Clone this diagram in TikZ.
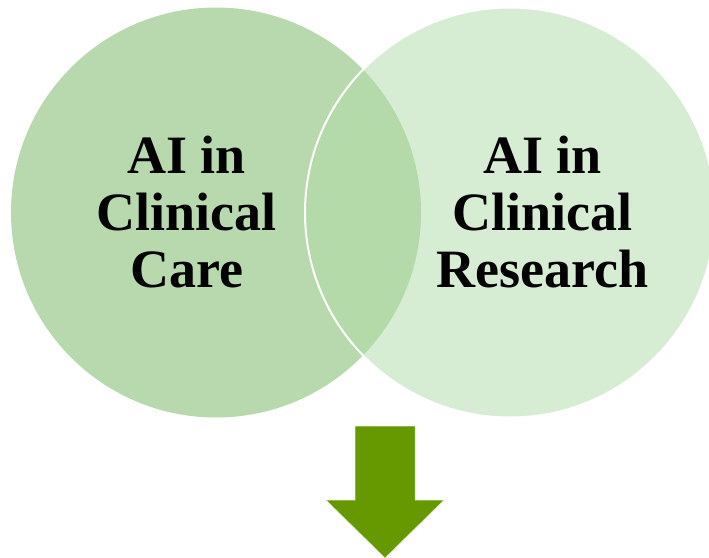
\documentclass[tikz,border=0pt]{standalone}
\usepackage{fontspec}
\setmainfont{Liberation Serif}
\definecolor{leftfill}{HTML}{B7D9AD}
\definecolor{rightfill}{HTML}{D6ECD3}
\definecolor{lensfill}{HTML}{B3DAA8}
\definecolor{arrowgreen}{HTML}{669900}
\begin{document}
\begin{tikzpicture}[x=1pt,y=-1pt,
  venn/.style={circle, minimum size=410pt, inner sep=0pt},
  label/.style={font=\bfseries\fontsize{54}{57}\selectfont, align=center, text=black}]
\useasboundingbox (0,0) rectangle (709,557);
\node[venn, fill=leftfill] (care) at (216,212.5) {};
\node[venn, fill=rightfill] (research) at (510,212.5) {};
\begin{scope}
  \clip (216,212.5) circle (205);
  \fill[lensfill] (510,212.5) circle (205);
\end{scope}
\draw[white, line width=2pt] (510,212.5) circle (205);
\node[label] (careText) at (186.5,212) {AI in\\Clinical\\Care};
\node[label] (researchText) at (542.5,212) {AI in\\Clinical\\Research};
\fill[arrowgreen, draw=white!80!arrowgreen, line width=0.5pt]
  (355,426) -- (415,426) -- (415,500) -- (444,500) -- (385,558) -- (326,500) -- (355,500) -- cycle;
\end{tikzpicture}
\end{document}
